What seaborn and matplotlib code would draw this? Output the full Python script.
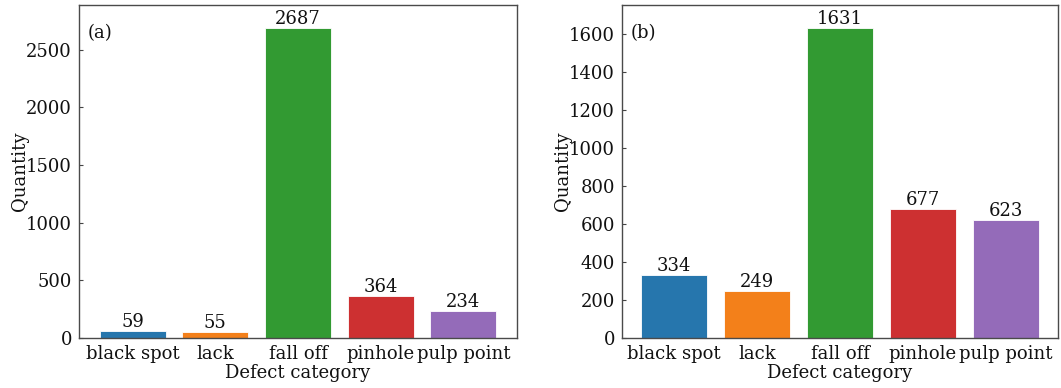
import matplotlib
matplotlib.use("Agg")
import matplotlib.pyplot as plt
import seaborn as sns
import pandas as pd

categories = ["black spot", "lack", "fall off", "pinhole", "pulp point"]
values_a = [59, 55, 2687, 364, 234]
values_b = [334, 249, 1631, 677, 623]
yticks_a = [0, 500, 1000, 1500, 2000, 2500]
yticks_b = [0, 200, 400, 600, 800, 1000, 1200, 1400, 1600]
colors = ["#1f77b4", "#ff7f0e", "#2ca02c", "#d62728", "#9467bd"]

sns.set_style("ticks")
plt.rcParams["font.family"] = ["DejaVu Serif"]
plt.rcParams["mathtext.fontset"] = "dejavuserif"

fig = plt.figure(figsize=(10.61, 3.88), dpi=100)
W, H = 1061, 388
ax1 = fig.add_axes([79 / W, 1 - 338 / H, (517 - 79) / W, (338 - 5) / H])
ax2 = fig.add_axes([622 / W, 1 - 338 / H, (1058 - 622) / W, (338 - 5) / H])

panels = [(ax1, values_a, yticks_a, 2888, "(a)", -0.65),
          (ax2, values_b, yticks_b, 1752, "(b)", -0.63)]

for ax, vals, yt, ytop, tag, xl in panels:
    df = pd.DataFrame({"cat": categories, "val": vals})
    sns.barplot(data=df, x="cat", y="val", hue="cat", palette=colors,
                legend=False, ax=ax, width=0.8, saturation=0.9,
                edgecolor="white", linewidth=0.6)
    for c in ax.containers:
        ax.bar_label(c, fmt="%d", fontsize=13, padding=0, color="#111111")
    ax.set_ylim(0, ytop)
    ax.set_xlim(xl, 4 - xl)
    ax.set_yticks(yt)
    ax.set_xlabel("Defect category", fontsize=13, labelpad=1, color="#111111")
    ax.set_ylabel("Quantity", fontsize=13, labelpad=-2, color="#111111")
    ax.tick_params(direction="in", length=3, width=0.8, labelsize=13,
                   color="#444444", labelcolor="#111111", pad=5)
    for s in ax.spines.values():
        s.set_visible(True)
        s.set_color("#4a4a4a")
        s.set_linewidth(1.0)
    ax.text(0.02, 0.915, tag, transform=ax.transAxes, fontsize=13,
            va="center", ha="left", color="#111111")

fig.savefig("out.png", dpi=100)
